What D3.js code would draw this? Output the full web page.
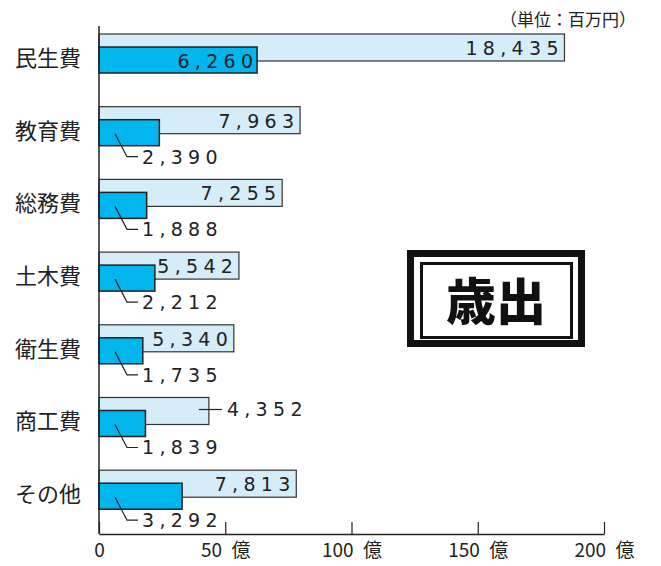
<!DOCTYPE html>
<html>
<head>
<meta charset="utf-8">
<script src="https://cdn.jsdelivr.net/npm/d3@7"></script>
<style>
  body { margin: 0; background: #fff; }
  svg { display: block; }
  .cat { font-family: "Noto Sans CJK JP", sans-serif; font-size: 22px; fill: #222; }
  .num { font-family: "DejaVu Sans", sans-serif; font-size: 19px; fill: #222; letter-spacing: 5.3px; }
  .tick text { font-family: "Noto Sans CJK JP", sans-serif; font-size: 19px; fill: #222; }
</style>
</head>
<body>
<div id="chart"></div>
<script>
var width = 661;
var height = 566;

// values in 百万円
var categories = ["民生費", "教育費", "総務費", "土木費", "衛生費", "商工費", "その他"];
var lightValues = [18435, 7963, 7255, 5542, 5340, 4352, 7813];
var darkValues = [6260, 2390, 1888, 2212, 1735, 1839, 3292];
var tickValues = [0, 5000, 10000, 15000, 20000];

var ls = 5.3;        // letter spacing of value labels
var labelW = 75;     // rough width of a value label
var fmt = d3.format(",");

var svg = d3.select("#chart")
  .append("svg")
  .attr("width", width)
  .attr("height", height);

var x = d3.scaleLinear()
  .domain([0, 20000])
  .range([99, 604]);

var y = d3.scaleBand()
  .domain(categories)
  .range([34, 34 + 7 * 72.7])
  .padding(0);

var lightH = 27, darkOff = 13, darkH = 26;

// unit note
svg.append("text")
  .attr("x", 636)
  .attr("y", 26)
  .attr("text-anchor", "end")
  .style("font-family", "'Noto Sans CJK JP', sans-serif")
  .style("font-size", "17px")
  .style("fill", "#222")
  .text("（単位：百万円）");

// light bars
svg.selectAll(".light")
  .data(categories)
  .enter().append("rect")
  .attr("class", "light")
  .attr("x", x(0))
  .attr("y", d => y(d))
  .attr("width", (d, i) => x(lightValues[i]) - x(0))
  .attr("height", lightH)
  .attr("fill", "#d5ecf9")
  .attr("stroke", "#333")
  .attr("stroke-width", 1.2);

// dark bars
svg.selectAll(".dark")
  .data(categories)
  .enter().append("rect")
  .attr("class", "dark")
  .attr("x", x(0))
  .attr("y", d => y(d) + darkOff)
  .attr("width", (d, i) => x(darkValues[i]) - x(0))
  .attr("height", darkH)
  .attr("fill", "#00b6ec")
  .attr("stroke", "#222")
  .attr("stroke-width", 1.5);

// left axis line
svg.append("line")
  .attr("x1", x(0)).attr("x2", x(0))
  .attr("y1", 26).attr("y2", 534)
  .attr("stroke", "#222")
  .attr("stroke-width", 1.5);

// bottom axis
var xAxis = d3.axisBottom(x)
  .tickValues(tickValues)
  .tickSizeInner(-12)
  .tickSizeOuter(0)
  .tickPadding(10)
  .tickFormat(d => d === 0 ? "0" : (d / 100) + "\u2002億");

var gx = svg.append("g")
  .attr("transform", "translate(0, 534)")
  .call(xAxis);
gx.select(".domain").attr("stroke", "#222").attr("stroke-width", 1.5);
gx.selectAll(".tick line").attr("stroke", "#222").attr("stroke-width", 1.2);

// category labels
svg.selectAll(".catlabel")
  .data(categories)
  .enter().append("text")
  .attr("class", "cat")
  .attr("x", 81)
  .attr("y", d => y(d) + 24)
  .attr("dy", "0.36em")
  .attr("text-anchor", "end")
  .text(d => d);

// light value labels
categories.forEach(function(c, i) {
  var end = x(lightValues[i]);
  var darkEnd = x(darkValues[i]);
  var top = y(c);
  if (end - 6 - labelW > darkEnd) {
    svg.append("text")
      .attr("class", "num")
      .attr("x", end - 6 + ls)
      .attr("y", top + 21)
      .attr("text-anchor", "end")
      .text(fmt(lightValues[i]));
  } else {
    svg.append("line")
      .attr("x1", end - 10).attr("x2", end + 13)
      .attr("y1", top + 12).attr("y2", top + 12)
      .attr("stroke", "#222").attr("stroke-width", 1.2);
    svg.append("text")
      .attr("class", "num")
      .attr("x", end + 18)
      .attr("y", top + 12)
      .attr("dy", "0.36em")
      .text(fmt(lightValues[i]));
  }
});

// dark value labels
categories.forEach(function(c, i) {
  var end = x(darkValues[i]);
  var dTop = y(c) + darkOff;
  var dBot = dTop + darkH;
  if (end - x(0) > 110) {
    svg.append("text")
      .attr("class", "num")
      .attr("x", end - 4 + ls)
      .attr("y", dTop + 21)
      .attr("text-anchor", "end")
      .text(fmt(darkValues[i]));
  } else {
    var x0 = x(0);
    svg.append("path")
      .attr("d", d3.line()([[x0 + 16, dTop + 14], [x0 + 28, dBot + 11], [x0 + 39, dBot + 11]]))
      .attr("fill", "none")
      .attr("stroke", "#222")
      .attr("stroke-width", 1.2);
    svg.append("text")
      .attr("class", "num")
      .attr("x", x0 + 43)
      .attr("y", dBot + 11)
      .attr("dy", "0.36em")
      .text(fmt(darkValues[i]));
  }
});

// 歳出 box
var box = svg.append("g");
box.append("rect")
  .attr("x", 410.5).attr("y", 253.5)
  .attr("width", 171).attr("height", 90)
  .attr("fill", "#fff")
  .attr("stroke", "#111")
  .attr("stroke-width", 7);
box.append("rect")
  .attr("x", 421.5).attr("y", 263.5)
  .attr("width", 150).attr("height", 74)
  .attr("fill", "none")
  .attr("stroke", "#111")
  .attr("stroke-width", 3);
box.append("text")
  .attr("x", 496)
  .attr("y", 302)
  .attr("dy", "0.36em")
  .attr("text-anchor", "middle")
  .style("font-family", "'Noto Sans CJK JP', sans-serif")
  .style("font-size", "50px")
  .style("font-weight", 900)
  .style("fill", "#111")
  .text("歳出");
</script>
</body>
</html>
